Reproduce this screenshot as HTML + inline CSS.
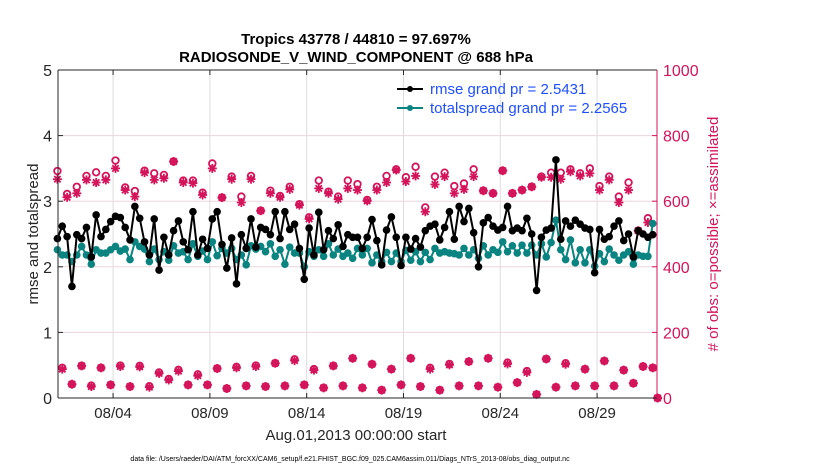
<!DOCTYPE html>
<html><head><meta charset="utf-8"><style>
body{margin:0;background:#fff;}
svg{display:block;font-family:"Liberation Sans",sans-serif;}
</style></head><body>
<svg id="chart" width="830" height="470">
<text x="356" y="44" text-anchor="middle" font-weight="bold" font-size="15">Tropics 43778 / 44810 = 97.697%</text>
<text x="356" y="62" text-anchor="middle" font-weight="bold" font-size="15">RADIOSONDE_V_WIND_COMPONENT @ 688 hPa</text>
<g id="grid"></g>
<g id="marks"></g>
<g id="axes"></g>
<text transform="translate(38,234) rotate(-90)" text-anchor="middle" font-size="15" fill="#262626">rmse and totalspread</text>
<text transform="translate(718,234) rotate(-90)" text-anchor="middle" font-size="15" fill="#d4145a"># of obs: o=possible; ×=assimilated</text>
<text x="356" y="440" text-anchor="middle" font-size="15" fill="#262626">Aug.01,2013 00:00:00 start</text>
<text x="350" y="461" text-anchor="middle" font-size="7" fill="#000">data file: /Users/raeder/DAI/ATM_forcXX/CAM6_setup/f.e21.FHIST_BGC.f09_025.CAM6assim.011/Diags_NTrS_2013-08/obs_diag_output.nc</text>
<g>
<line x1="397" y1="89" x2="423" y2="89" stroke="#000" stroke-width="2"/>
<circle cx="410" cy="89" r="3" fill="#000"/>
<text x="430" y="94" font-size="15" fill="#1f4fff">rmse grand pr = 2.5431</text>
<line x1="397" y1="108" x2="423" y2="108" stroke="#0a8480" stroke-width="2"/>
<circle cx="410" cy="108" r="3" fill="#0a8480"/>
<text x="430" y="113" font-size="15" fill="#1f4fff">totalspread grand pr = 2.2565</text>
</g>
</svg>
<script>
const rmse=[2.43,2.62,2.46,1.70,2.49,2.43,2.60,2.15,2.79,2.46,2.57,2.69,2.77,2.75,2.60,2.41,2.92,2.74,2.38,2.18,2.73,1.95,2.45,2.18,2.55,2.70,2.38,2.26,2.84,2.18,2.42,2.28,2.73,2.84,2.34,1.98,2.44,1.74,2.49,2.28,2.73,2.30,
2.60,2.57,2.49,2.84,2.43,2.84,2.57,2.65,2.28,1.81,2.59,2.18,2.83,2.26,2.55,2.43,2.64,2.31,2.49,2.45,2.45,2.28,2.45,2.72,2.40,2.03,2.56,2.76,2.45,2.02,2.45,2.27,2.43,2.30,2.55,2.62,2.65,2.41,2.60,2.84,2.42,2.92,
2.69,2.89,2.52,2.00,2.67,2.75,2.62,2.56,2.60,2.92,2.55,2.59,2.55,2.74,2.50,1.64,2.45,2.56,2.59,3.63,2.42,2.70,2.62,2.71,2.65,2.59,2.57,1.91,2.57,2.42,2.46,2.62,2.70,2.40,2.50,2.15,2.55,2.50,2.45,2.49,null];
const spread=[2.26,2.18,2.18,2.08,2.18,2.31,2.18,2.04,2.26,2.21,2.21,2.26,2.31,2.24,2.27,2.11,2.38,2.31,2.27,2.08,2.27,2.11,2.23,2.10,2.32,2.21,2.23,2.11,2.35,2.16,2.24,2.11,2.38,2.17,2.28,2.21,2.28,2.11,2.18,2.03,2.32,2.27,
2.31,2.23,2.35,2.16,2.26,2.04,2.30,2.21,2.21,2.00,2.23,2.16,2.26,2.16,2.35,2.18,2.27,2.16,2.21,2.13,2.28,2.18,2.28,2.06,2.18,2.08,2.22,2.08,2.21,2.08,2.25,2.10,2.23,2.08,2.22,2.11,2.28,2.21,2.23,2.21,2.20,2.18,
2.28,2.18,2.26,2.13,2.32,2.18,2.26,2.22,2.38,2.23,2.32,2.21,2.33,2.21,2.33,2.18,2.35,2.15,2.37,2.71,2.26,2.11,2.41,2.06,2.26,2.06,2.26,2.01,2.20,2.08,2.27,2.18,2.10,2.18,2.23,2.04,2.18,2.16,2.16,2.66,null];
// observations at 00/12Z (even index) and 06/18Z (odd index)
const possibleHi=[692,622,644,677,688,677,724,642,631,693,685,680,721,663,663,626,715,611,675,614,677,571,632,616,644,591,551,663,629,614,663,652,604,644,677,697,673,705,581,675,687,646,654,697,632,624,693,624,634,644,675,687,687,697,685,700,646,675,614,657,510,548,0];
const assimHi=[667,612,624,665,657,665,700,634,614,687,665,670,721,657,655,619,700,611,667,596,667,571,624,612,636,588,546,639,624,606,639,634,601,634,657,695,660,677,568,651,675,624,636,675,632,624,693,624,634,644,673,673,667,690,677,685,634,665,596,634,510,535,0];
const possibleLo=[92,42,98,38,92,40,99,35,98,36,78,58,86,40,72,40,90,29,95,37,99,35,106,37,118,40,88,31,98,37,121,31,103,24,88,40,121,35,92,24,104,37,111,37,121,33,108,47,82,11,119,33,106,37,88,37,113,37,85,45,96,92];
const assimLo=[88,42,98,35,92,40,96,35,95,33,75,55,82,40,68,40,90,29,92,37,96,35,106,37,114,40,85,31,98,37,121,31,103,24,88,40,121,35,88,24,101,37,111,37,121,33,104,47,78,11,119,33,103,37,88,37,113,37,85,45,96,92];
const xTickLabels=["08/04","08/09","08/14","08/19","08/24","08/29"];
const xTickDays=[3,8,13,18,23,28];
const yTicks=[0,1,2,3,4,5];
const y2Ticks=[0,200,400,600,800,1000];

const NS="http://www.w3.org/2000/svg";
const XL=58,X1=657,Y0=398,Y1=70,PXDAY=19.36,XDAY0=55;
const xs=d=>XDAY0+d*PXDAY;
const ys=v=>Y0-v*(Y0-Y1)/5;
const ys2=v=>Y0-v*(Y0-Y1)/1000;
const tOf=k=>0.125+0.25*k;
function el(tag,attrs,parent){const e=document.createElementNS(NS,tag);for(const k in attrs)e.setAttribute(k,attrs[k]);parent.appendChild(e);return e;}
const grid=document.getElementById('grid'),marks=document.getElementById('marks'),axes=document.getElementById('axes');
const MAG="#d4145a",TEAL="#0a8480";

xTickDays.forEach((d,i)=>{
  const g=el('line',{x1:xs(d),x2:xs(d),y1:Y1,y2:Y0,stroke:'#dcdcdc','stroke-width':1},grid);
  
  
  const t=el('line',{x1:xs(d),x2:xs(d),y1:Y0,y2:Y0-5,stroke:'#262626'},axes);
  
  
  const t2=el('line',{x1:xs(d),x2:xs(d),y1:Y1,y2:Y1+5,stroke:'#262626'},axes);
  
  
  const l=el('text',{x:xs(d),y:Y0+20,'text-anchor':'middle','font-size':15,fill:'#262626'},axes);
  l.textContent=xTickLabels[i];
  
  
});
yTicks.forEach(v=>{
  if(v>0&&v<5){const g=el('line',{x1:XL,x2:X1,y1:ys(v),y2:ys(v),stroke:'#ecd6de','stroke-width':1},grid);
  
  }
  const t=el('line',{x1:XL,x2:XL+5,y1:ys(v),y2:ys(v),stroke:'#262626'},axes);
  
  
  const l=el('text',{x:XL-6,y:ys(v)+6,'text-anchor':'end','font-size':16,fill:'#262626'},axes);
  l.textContent=v;
  
  
});
y2Ticks.forEach(v=>{
  const t=el('line',{x1:X1,x2:X1-5,y1:ys2(v),y2:ys2(v),stroke:MAG},axes);
  
  
  const l=el('text',{x:X1+6,y:ys2(v)+6,'font-size':16,fill:MAG},axes);
  l.textContent=v;
  
  
});
let a=el('line',{x1:XL,x2:XL,y1:Y1,y2:Y0,stroke:'#262626'},axes);


a=el('line',{x1:XL,x2:X1,y1:Y0,y2:Y0,stroke:'#262626'},axes);


a=el('line',{x1:XL,x2:X1,y1:Y1,y2:Y1,stroke:'#262626'},axes);


a=el('line',{x1:X1,x2:X1,y1:Y1,y2:Y0,stroke:MAG},axes);



function asterisk(x,y,parent){
  const g=el('g',{stroke:MAG,'stroke-width':1.8},parent);
  
  
  const r=4.5;
  el('line',{x1:x-r,x2:x+r,y1:y,y2:y},g);
  el('line',{x1:x,x2:x,y1:y-r,y2:y+r},g);
  el('line',{x1:x-3.2,x2:x+3.2,y1:y-3.2,y2:y+3.2},g);
  el('line',{x1:x-3.2,x2:x+3.2,y1:y+3.2,y2:y-3.2},g);
}
function obs(pos,ass,offset){
  pos.forEach((v,i)=>{
    const k=offset+2*i, x=xs(tOf(k));
    const c=el('circle',{cx:x,cy:ys2(v),r:3.3,fill:'#fff',stroke:MAG,'stroke-width':1.8},marks);
    
    
    asterisk(x,ys2(ass[i]),marks);
  });
}
obs(possibleHi,assimHi,0);
obs(possibleLo,assimLo,1);

function series(vals,color,name){
  let d='';vals.forEach((v,k)=>{if(v===null)return;d+=(d?'L':'M')+xs(tOf(k)).toFixed(1)+','+ys(v).toFixed(1);});
  const p=el('path',{d:d,fill:'none',stroke:color,'stroke-width':2},marks);
  
  
  vals.forEach((v,k)=>{if(v===null)return;
    const c=el('circle',{cx:xs(tOf(k)),cy:ys(v),r:3.8,fill:color},marks);
    
    
  });
}
series(spread,TEAL,'totalspread');
series(rmse,'#000','rmse');
</script>
</body></html>
